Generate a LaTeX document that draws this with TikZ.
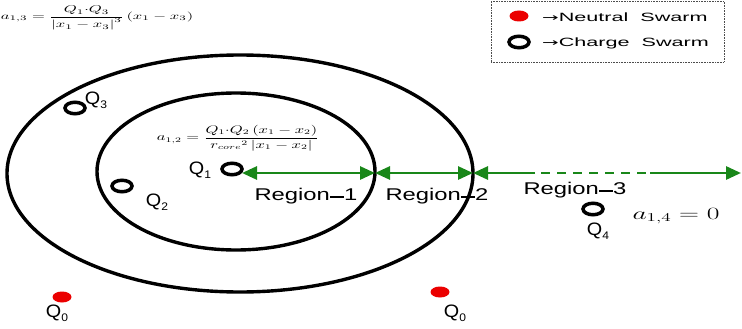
\documentclass[tikz,border=0pt]{standalone}
\usepackage{amsmath}
\usepackage{fontspec}
\setsansfont{Liberation Sans}
\newfontfamily\arrowfont{DejaVu Sans}
\usetikzlibrary{arrows.meta,shapes.geometric}
\definecolor{arrowgreen}{RGB}{25,135,25}
\definecolor{dotred}{RGB}{235,0,0}
\newcommand{\wide}[2]{\scalebox{#1}[1]{#2}}
\newcommand{\qsub}[1]{\raisebox{-0.4ex}{\fontsize{11}{11}\selectfont #1}}
\begin{document}
\begin{tikzpicture}[x=1pt,y=-1pt,
  ring/.style={ellipse,draw=black,line width=3.5pt,minimum width=20pt,minimum height=11.5pt,inner sep=0pt},
  reddot/.style={ellipse,fill=dotred,minimum width=19pt,minimum height=11pt,inner sep=0pt},
  qlabel/.style={font=\sffamily\fontsize{18}{18}\selectfont,inner sep=0pt,text=black},
  region/.style={font=\sffamily\fontsize{17}{17}\selectfont,inner sep=0pt,text=black},
  legtext/.style={font=\sffamily\fontsize{12}{12}\selectfont,inner sep=0pt,anchor=west,text=black},
  formula/.style={inner sep=0pt},
  bigcurve/.style={line width=3.4pt},
  garrow/.style={draw=arrowgreen,line width=2.8pt},
  ghead/.style={-{Triangle[length=15pt,width=13pt]}},
]
\useasboundingbox (0,0) rectangle (742,329);

% circles (regions)
\draw[bigcurve] (240,173.5) ellipse [x radius=233, y radius=118.5];
\draw[bigcurve] (236,171.5) ellipse [x radius=139, y radius=78.5];

% formulas
\node[formula] (f13) at (97,18) {\wide{1.65}{\fontsize{10}{10}\selectfont$a_{1,3}=\dfrac{Q_1{\cdot}Q_3}{\left|x_1-x_3\right|^3}\,(x_1-x_3)$}};
\node[formula] (f12) at (238,138) {\wide{1.5}{\fontsize{10.5}{10.5}\selectfont$a_{1,2}=\dfrac{Q_1{\cdot}Q_2\,(x_1-x_2)}{r_{core}{}^{2}\left|x_1-x_2\right|}$}};
\node[formula] (f14) at (676,216) {\wide{1.6}{\fontsize{18}{18}\selectfont$a_{1,4}=0$}};

% charge swarms
\node[ring] (q1) at (232,169) {};
\node[ring] (q2) at (122,186) {};
\node[ring] (q3) at (75,108) {};
\node[ring] (q4) at (593,209) {};
% neutral swarms
\node[reddot] (n1) at (62,297) {};
\node[reddot] (n2) at (440,292) {};

% labels
\node[qlabel] (lq1) at (200,170) {\wide{1.1}{Q\qsub{1}}};
\node[qlabel] (lq2) at (157,202) {\wide{1.1}{Q\qsub{2}}};
\node[qlabel] (lq3) at (96,100) {\wide{1.1}{Q\qsub{3}}};
\node[qlabel] (lq4) at (598,231) {\wide{1.1}{Q\qsub{4}}};
\node[qlabel] (ln1) at (57,313) {\wide{1.1}{Q\qsub{0}}};
\node[qlabel] (ln2) at (455,313) {\wide{1.1}{Q\qsub{0}}};

% region labels
\node[region] (r1) at (306,196) {\wide{1.4}{Region\raisebox{0.3ex}{\rule{0.6em}{0.09em}}1}};
\node[region] (r2) at (437,196) {\wide{1.4}{Region\raisebox{0.3ex}{\rule{0.6em}{0.09em}}2}};
\node[region] (r3) at (575,190) {\wide{1.4}{Region\raisebox{0.3ex}{\rule{0.6em}{0.09em}}3}};

% green arrows
\coordinate (a0) at (242,173);
\coordinate (b1) at (375,173);
\coordinate (b2) at (473,173);
\coordinate (d1) at (535,173);
\coordinate (d2) at (650,173);
\coordinate (e) at (741,173);
\coordinate (m1) at (308,173);
\coordinate (m2) at (424,173);
\draw[garrow,ghead] (m1) -- (a0);
\draw[garrow,ghead] (m1) -- (b1);
\draw[garrow,ghead] (m2) -- (b1);
\draw[garrow,ghead] (m2) -- (b2);
\draw[garrow,ghead] (d1) -- (b2);
\foreach \s in {0,16,...,100} {
  \draw[garrow] ([xshift=\s pt+6pt]d1) -- ([xshift=\s pt+15pt]d1);
}
\draw[garrow,ghead] (d2) -- (e);

% legend
\node[draw=black!70,densely dotted,line width=0.6pt,minimum width=233pt,minimum height=61pt,inner sep=0pt] (leg) at (607.5,31.5) {};
\node[reddot] (ldot) at (519,16) {};
\node[ring] (lring) at (519,42) {};
\node[legtext] (lt1) at (542,17) {\wide{1.8}{{\arrowfont\fontsize{11}{11}\selectfont →}Neutral\ \ Swarm}};
\node[legtext] (lt2) at (542,43) {\wide{1.8}{{\arrowfont\fontsize{11}{11}\selectfont →}Charge\ \ Swarm}};
\end{tikzpicture}
\end{document}
